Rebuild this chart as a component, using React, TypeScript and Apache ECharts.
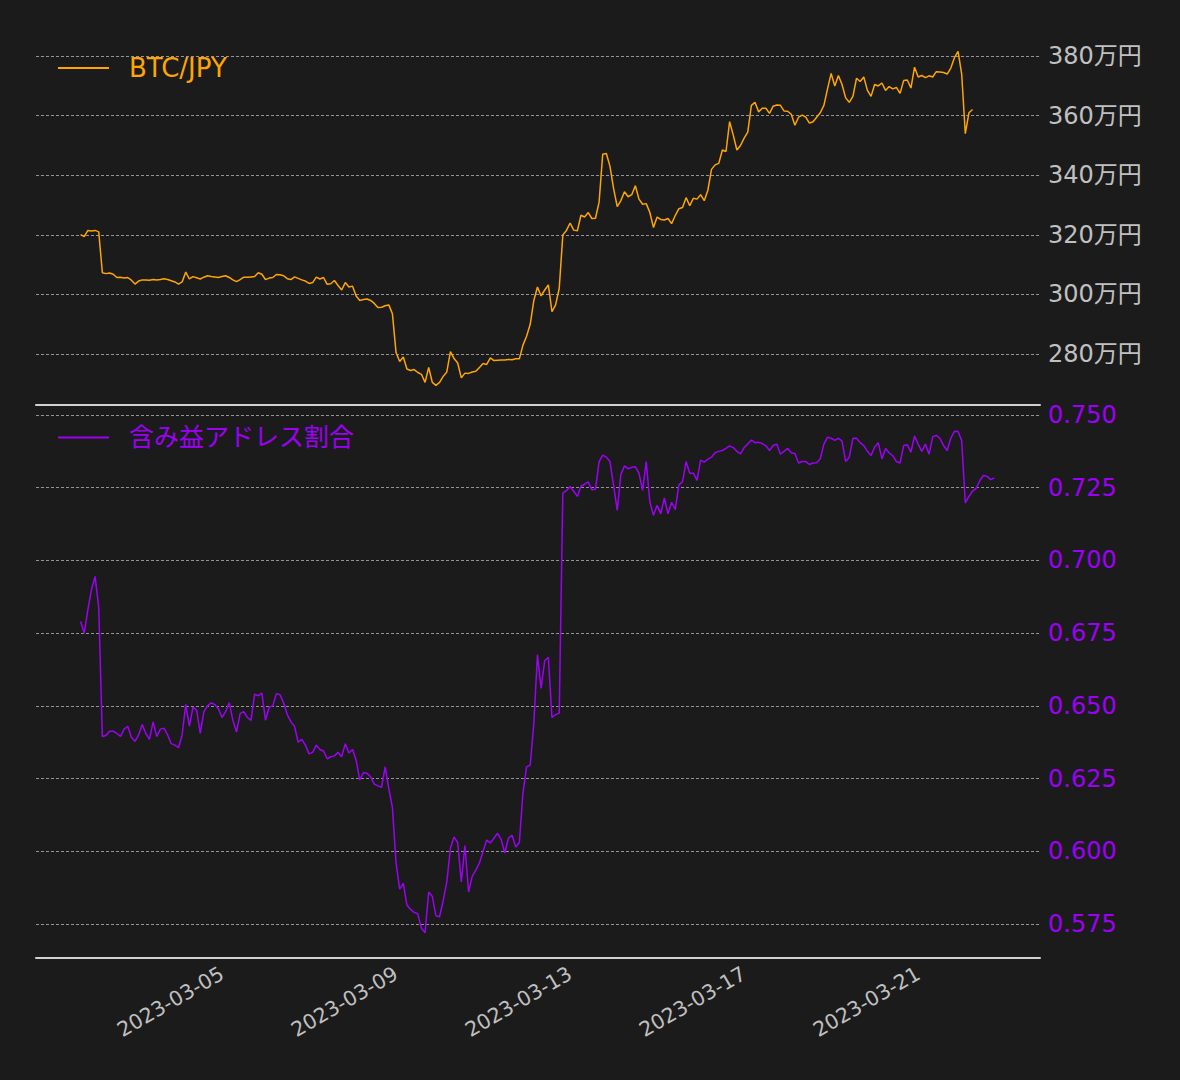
import React, { useEffect, useRef } from "react";
import * as echarts from "echarts";

// ---- data (2-hour samples starting 2023-03-01 18:00 UTC) ----
const START_UTC = Date.UTC(2023, 2, 1, 18, 0);
const STEP_HOURS = 2;

const btcJpyMan: number[] = [
  320.1, 319.4, 321.5, 321.3, 321.5, 321.0, 307.3, 307.0, 307.2, 306.8,
  305.7, 305.8, 305.5, 305.7, 304.8, 303.5, 304.5, 304.9, 304.9, 304.8,
  305.0, 304.9, 305.0, 305.3, 305.0, 304.6, 304.2, 303.5, 304.2, 307.5,
  305.2, 306.0, 305.6, 305.2, 305.8, 306.3, 306.0, 305.9, 305.7, 306.0,
  306.3, 305.7, 304.9, 304.3, 305.0, 305.8, 305.8, 305.9, 306.0, 307.3,
  306.8, 305.0, 305.5, 305.7, 306.7, 306.6, 306.3, 305.3, 305.0, 305.9,
  305.4, 304.9, 304.5, 303.7, 304.0, 305.8, 305.2, 305.7, 303.4, 303.6,
  304.7, 303.0, 301.5, 304.0, 302.5, 302.8, 299.5, 298.0, 298.3, 298.5,
  298.0, 297.0, 295.6, 295.7, 296.2, 296.5, 293.5, 280.5, 277.5, 279.0,
  275.0, 274.5, 274.8, 273.8, 273.2, 270.5, 275.5, 270.5, 269.5, 270.5,
  272.5, 274.0, 280.8, 278.5, 277.0, 272.0, 273.6, 273.5, 274.0, 274.2,
  275.5, 276.8, 276.5, 278.7, 277.8, 277.9, 278.0, 278.0, 278.2, 278.1,
  278.4, 278.4, 283.0, 286.0, 290.0, 298.0, 302.5, 299.5, 301.5, 303.2,
  294.2, 296.5, 302.0, 320.0, 321.5, 324.0, 321.6, 321.4, 326.6, 326.0,
  327.5, 325.5, 325.6, 331.0, 347.1, 347.3, 343.0, 335.5, 329.5, 331.5,
  334.5, 332.8, 333.5, 336.5, 332.0, 330.3, 330.5, 327.5, 322.5, 326.0,
  325.2, 325.0, 325.5, 323.8, 326.5, 328.8, 329.2, 332.5, 329.8, 332.3,
  332.0, 333.5, 331.5, 335.0, 342.0, 343.5, 344.0, 348.5, 348.0, 358.0,
  353.5, 348.5, 350.0, 352.5, 354.5, 363.5, 364.5, 361.3, 362.5, 362.5,
  360.8, 363.2, 363.6, 363.5, 361.6, 361.5, 360.5, 356.8, 359.5, 360.2,
  359.5, 357.5, 358.0, 359.5, 361.0, 363.5, 369.0, 374.2, 370.0, 373.5,
  370.5, 366.0, 364.5, 366.5, 372.6, 371.5, 373.0, 368.5, 366.5, 370.5,
  370.0, 371.0, 368.5, 369.8, 369.0, 369.5, 367.5, 371.8, 372.0, 369.3,
  376.3, 373.0, 373.5, 372.8, 373.4, 373.0, 374.8, 374.7, 374.5, 374.0,
  376.0, 379.5, 381.6, 374.0, 354.0, 361.0, 362.1,
];

const profitRatio: number[] = [
  0.679, 0.675, 0.683, 0.69, 0.6945, 0.6838, 0.6395, 0.6398, 0.6413, 0.6413,
  0.6405, 0.6395, 0.642, 0.643, 0.6392, 0.6378, 0.64, 0.6436, 0.6405, 0.6385,
  0.6445, 0.6394, 0.642, 0.6423, 0.64, 0.637, 0.6365, 0.6356, 0.64, 0.6505,
  0.643, 0.6496, 0.6485, 0.6405, 0.648, 0.65, 0.651, 0.6505, 0.649, 0.646,
  0.648, 0.6511, 0.645, 0.641, 0.6473, 0.648, 0.646, 0.645, 0.654, 0.6535,
  0.6544, 0.645, 0.6495, 0.65, 0.6542, 0.6538, 0.651, 0.647, 0.6445, 0.643,
  0.6375, 0.6385, 0.6365, 0.6335, 0.634, 0.6365, 0.635, 0.6345, 0.6318, 0.6325,
  0.6328, 0.634, 0.6325, 0.637, 0.6338, 0.635, 0.6313, 0.6245, 0.627, 0.6268,
  0.6256, 0.6231, 0.6225, 0.622, 0.629, 0.6215, 0.615, 0.596, 0.587, 0.589,
  0.5815, 0.58, 0.579, 0.5785, 0.5735, 0.572, 0.586, 0.5845, 0.5778, 0.5775,
  0.583, 0.5895, 0.6011, 0.6049, 0.603, 0.5895, 0.602, 0.586, 0.5914, 0.5935,
  0.596, 0.6, 0.6039, 0.6028, 0.6045, 0.6062, 0.604, 0.5994, 0.6045, 0.6055,
  0.6015, 0.603, 0.62, 0.629, 0.6296, 0.644, 0.6676, 0.656, 0.6655, 0.6667,
  0.646, 0.647, 0.6475, 0.7232, 0.724, 0.7254, 0.7238, 0.722, 0.7255, 0.7262,
  0.727, 0.7243, 0.7245, 0.734, 0.7362, 0.7355, 0.734, 0.7258, 0.7172, 0.7295,
  0.7325, 0.7315, 0.732, 0.7322, 0.73, 0.7241, 0.734, 0.72, 0.7155, 0.719,
  0.716, 0.7215, 0.716, 0.72, 0.7175, 0.726, 0.727, 0.734, 0.73, 0.73,
  0.7275, 0.7345, 0.7338, 0.7348, 0.7355, 0.737, 0.7375, 0.7378, 0.7385, 0.7394,
  0.7388, 0.7375, 0.7366, 0.7388, 0.74, 0.7414, 0.7405, 0.7406, 0.7402, 0.7394,
  0.7378, 0.7395, 0.74, 0.7365, 0.7375, 0.7385, 0.737, 0.7368, 0.7335, 0.734,
  0.734, 0.733, 0.7335, 0.7336, 0.735, 0.74, 0.7424, 0.742, 0.7413, 0.742,
  0.741, 0.734, 0.7355, 0.742, 0.742, 0.7405, 0.7395, 0.7375, 0.7361, 0.739,
  0.7405, 0.7349, 0.7385, 0.737, 0.736, 0.734, 0.7335, 0.7395, 0.7398, 0.7372,
  0.7428, 0.74, 0.7375, 0.74, 0.7365, 0.7425, 0.743, 0.742, 0.7395, 0.7378,
  0.742, 0.7444, 0.7443, 0.7412, 0.7198, 0.722, 0.7238, 0.7248, 0.7275, 0.7292,
  0.7289, 0.7278, 0.7284,
];

const dateTickLabels: string[] = ["2023-03-05", "2023-03-09", "2023-03-13", "2023-03-17", "2023-03-21"];
const btcTicks: number[] = [280, 300, 320, 340, 360, 380];
const ratioTicks: number[] = [0.575, 0.6, 0.625, 0.65, 0.675, 0.7, 0.725, 0.75];

const BTC_NAME = "BTC/JPY";
const RATIO_NAME = "含み益アドレス割合";

// ---- style ----
const BG = "#1b1b1b";
const ORANGE = "#ffa500";
const PURPLE = "#9d00f5";
const TICK_GREY = "#c0c0c0";
const GRID_GREY = "#b4b4b4";
const SPINE = "#d0d0d0";
const FONT = "'DejaVu Sans', 'Noto Sans CJK JP', sans-serif";

const X_MIN = Date.UTC(2023, 1, 28, 17, 24);
const X_MAX = Date.UTC(2023, 2, 23, 19, 12);

const toTime = (i: number) => START_UTC + i * STEP_HOURS * 3600 * 1000;
const parseDay = (s: string) => {
  const [y, m, d] = s.split("-").map(Number);
  return Date.UTC(y, m - 1, d);
};
const pad2 = (n: number) => (n < 10 ? "0" + n : "" + n);
const fmtDay = (v: number) => {
  const d = new Date(v);
  return `${d.getUTCFullYear()}-${pad2(d.getUTCMonth() + 1)}-${pad2(d.getUTCDate())}`;
};

export default function App() {
  const ref = useRef<HTMLDivElement>(null);

  useEffect(() => {
    document.body.style.margin = "0";
    document.body.style.background = BG;
    if (!ref.current) return;
    const chart = echarts.init(ref.current, null, { renderer: "svg" });

    const dateTicks = dateTickLabels.map(parseDay);
    const btcData = btcJpyMan.map((v, i) => [toTime(i), v]);
    const ratioData = profitRatio.map((v, i) => [toTime(i), v]);

    const splitLine = {
      show: true,
      lineStyle: { color: GRID_GREY, width: 0.8, type: [3, 2] as number[] },
    };

    chart.setOption({
      animation: false,
      backgroundColor: BG,
      textStyle: { fontFamily: FONT },
      grid: [
        { left: 36, right: 140, top: 35, height: 370, outerBoundsMode: "none", containLabel: false },
        { left: 36, right: 140, top: 405, height: 553, outerBoundsMode: "none", containLabel: false },
      ],
      legend: [
        {
          data: [BTC_NAME],
          left: 58,
          top: 55,
          padding: 0,
          icon: "rect",
          itemWidth: 51,
          itemHeight: 2,
          selectedMode: false,
          textStyle: { color: ORANGE, fontSize: 26, fontFamily: FONT, padding: [0, 0, 0, 15] },
        },
        {
          data: [RATIO_NAME],
          left: 58,
          top: 425,
          padding: 0,
          icon: "rect",
          itemWidth: 51,
          itemHeight: 2,
          selectedMode: false,
          textStyle: { color: PURPLE, fontSize: 25, fontFamily: FONT, padding: [0, 0, 0, 15] },
        },
      ],
      xAxis: [
        {
          type: "value",
          gridIndex: 0,
          min: X_MIN,
          max: X_MAX,
          axisLine: { show: true, lineStyle: { color: SPINE, width: 2 } },
          axisTick: { show: false },
          axisLabel: { show: false },
          splitLine: { show: false },
        },
        {
          type: "value",
          gridIndex: 1,
          min: X_MIN,
          max: X_MAX,
          axisLine: { show: true, lineStyle: { color: SPINE, width: 2 } },
          axisTick: { show: false, customValues: dateTicks },
          axisLabel: {
            show: true,
            customValues: dateTicks,
            rotate: 30,
            margin: 14,
            color: TICK_GREY,
            fontSize: 20.5,
            fontFamily: FONT,
            formatter: (v: number) => fmtDay(v),
          },
          splitLine: { show: false },
        },
      ],
      yAxis: [
        {
          type: "value",
          gridIndex: 0,
          position: "right",
          min: 262.9,
          max: 387.1,
          axisLine: { show: false },
          axisTick: { show: false, customValues: btcTicks },
          axisLabel: {
            customValues: btcTicks,
            margin: 8,
            color: TICK_GREY,
            fontSize: 24,
            fontFamily: FONT,
            formatter: (v: number) => `${v}万円`,
          },
          splitLine,
        },
        {
          type: "value",
          gridIndex: 1,
          position: "right",
          min: 0.56331,
          max: 0.75344,
          axisLine: { show: false },
          axisTick: { show: false, customValues: ratioTicks },
          axisLabel: {
            customValues: ratioTicks,
            margin: 8,
            color: PURPLE,
            fontSize: 24,
            fontFamily: FONT,
            formatter: (v: number) => v.toFixed(3),
          },
          splitLine,
        },
      ],
      series: [
        {
          name: BTC_NAME,
          type: "line",
          xAxisIndex: 0,
          yAxisIndex: 0,
          data: btcData,
          color: ORANGE,
          showSymbol: false,
          symbol: "none",
          lineStyle: { color: ORANGE, width: 1.5 },
        },
        {
          name: RATIO_NAME,
          type: "line",
          xAxisIndex: 1,
          yAxisIndex: 1,
          data: ratioData,
          color: PURPLE,
          showSymbol: false,
          symbol: "none",
          lineStyle: { color: PURPLE, width: 1.5 },
        },
      ],
    });

    return () => chart.dispose();
  }, []);

  return <div ref={ref} style={{ width: 1180, height: 1080, background: BG }} />;
}
